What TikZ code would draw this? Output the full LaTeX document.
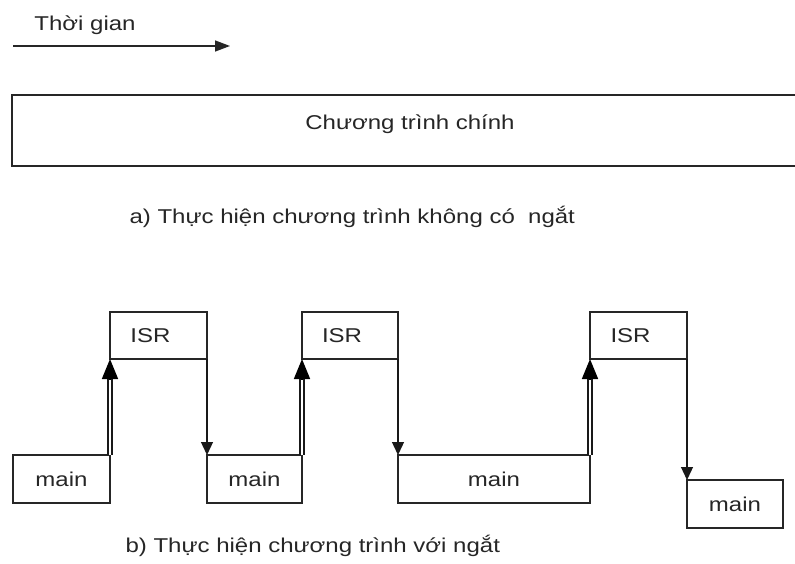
\documentclass[tikz,border=0pt]{standalone}
\usepackage{fontspec}
\setmainfont{Liberation Sans}[FakeStretch=1.2]
\usetikzlibrary{arrows.meta}

\tikzset{
    blk/.style={draw=black!85, line width=1.4pt, minimum height=48pt, inner sep=0pt, outer sep=0pt},
    isr/.style={blk, minimum width=97pt, minimum height=47pt, execute at begin node={\hspace*{-16pt}}},
    upshaft/.style={draw=black!90, double, double distance=2pt, line width=1.6pt, shorten >=14pt},
    uphead/.style={black, line width=1.6pt, -{Triangle[length=20pt,width=16pt]}},
    downflow/.style={draw=black!90, line width=1.3pt, -{Triangle[length=13pt,width=12pt]}},
}

\begin{document}
\begin{tikzpicture}[x=1pt, y=-1pt, font=\fontsize{20}{24}\selectfont, text=black!85]
    \clip (0,0) rectangle (795,564);
    \fill[white] (0,0) rectangle (795,564);

    % Time axis
    \node (time) at (85,25) {Thời gian};
    \coordinate (t0) at (13,46);
    \coordinate (t1) at (230,46);
    \draw[black!85, line width=1.4pt, -{Triangle[length=15pt,width=11pt]}] (t0) -- (t1);

    % a) no interrupt
    \node[blk, minimum width=840pt, minimum height=71pt] (prog) at (432,130.5) {};
    \node (progtxt) at (410,124) {Chương trình chính};
    \node[anchor=base west] (capa) at (126,223) {a) Thực hiện chương trình không có\ \ ngắt};

    % b) with interrupts
    \node[blk, minimum width=97pt] (m1) at (61.5,479) {main};
    \node[isr] (i1) at (158.5,335.5) {ISR};
    \node[blk, minimum width=95pt] (m2) at (254.5,479) {main};
    \node[isr, minimum width=96pt] (i2) at (350,335.5) {ISR};
    \node[blk, minimum width=192pt] (m3) at (494,479) {main};
    \node[isr] (i3) at (638.5,335.5) {ISR};
    \node[blk, minimum width=96pt] (m4) at (735,504) {main};

    % Switching main -> ISR
    \foreach \m/\i in {m1/i1, m2/i2, m3/i3} {
        \draw[upshaft] (\m.north east) -- (\i.south west);
        \draw[uphead] ([yshift=-20pt]\i.south west) -- (\i.south west);
    }
    % Return ISR -> main
    \draw[downflow] (i1.south east) -- (m2.north west);
    \draw[downflow] (i2.south east) -- (m3.north west);
    \draw[downflow] (i3.south east) -- (m4.north west);

    \node[anchor=base west] (capb) at (122,552) {b) Thực hiện chương trình với ngắt};
\end{tikzpicture}
\end{document}
